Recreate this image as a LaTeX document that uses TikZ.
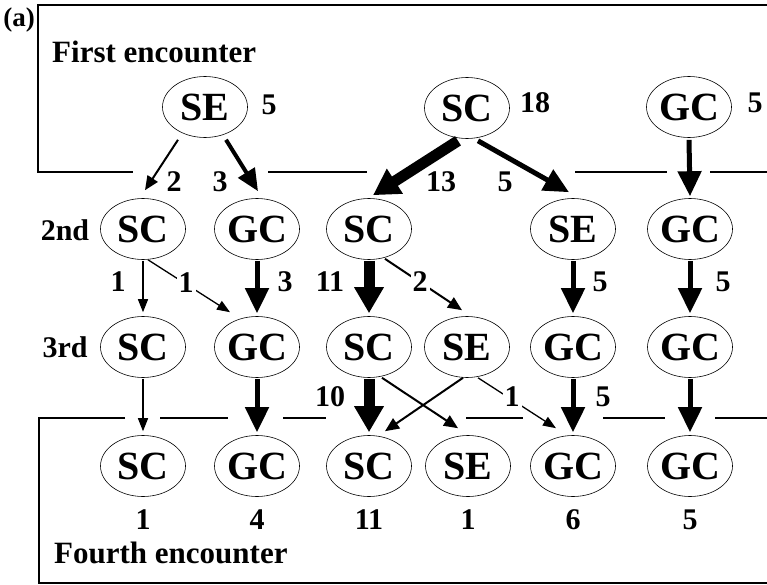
\documentclass[tikz,border=0pt]{standalone}
\usepackage{fontspec}
\setmainfont{Liberation Serif}
\usetikzlibrary{arrows.meta,shapes.geometric,calc}
\begin{document}
\begin{tikzpicture}[x=1pt,y=-1pt,
  st/.style={ellipse, draw, line width=0.6pt, minimum width=85pt, minimum height=61pt, inner sep=0pt, font=\fontsize{40}{40}\selectfont\bfseries},
  lab/.style={font=\fontsize{30}{30}\selectfont\bfseries, inner sep=1pt},
  head/.style={font=\fontsize{31}{31}\selectfont\bfseries, inner sep=0pt},
  cut/.style={lab, fill=white, inner sep=2pt},
  a1/.style={line width=1.3pt, -{Triangle[length=13pt,width=10pt]}},
  a2/.style={line width=2pt, -{Triangle[length=14pt,width=12pt]}},
  a3/.style={line width=4pt, -{Triangle[length=22pt,width=19pt]}},
  a5/.style={line width=5pt, -{Triangle[length=25pt,width=23pt]}},
  a10/.style={line width=11pt, line join=round, -{Triangle[length=26pt,width=28pt]}},
  frame/.style={line width=1.5pt}]
\useasboundingbox (0,0) rectangle (767,585);

% frames
\draw[frame] (767,5) -- (38,5) -- (38,172) -- (133,172);
\draw[frame] (268,172) -- (367,172);
\draw[frame] (575,172) -- (667,172);
\draw[frame] (710,172) -- (767,172);
\draw[frame] (125,418) -- (39,418) -- (39,583) -- (767,583);
\draw[frame] (160,418) -- (228,418);
\draw[frame] (283,418) -- (326,418);
\draw[frame] (466,418) -- (523,418);
\draw[frame] (603,418) -- (665,418);
\draw[frame] (715,418) -- (767,418);

% texts
\node[font=\fontsize{27}{27}\selectfont\bfseries, inner sep=0pt] (a) at (19,20) {(a)};
\node[head, anchor=base west] (first) at (52,63) {First encounter};
\node[head, anchor=base west] (fourth) at (54,563) {Fourth encounter};
\node[lab] (l2nd) at (65,230) {2nd};
\node[lab] (l3rd) at (65,347) {3rd};

% nodes
\node[st] (se1) at (205,107) {SE};
\node[st] (sc1) at (467,108) {SC};
\node[st] (gc1) at (689,107) {GC};

\node[st] (sc2a) at (143,229) {SC};
\node[st] (gc2a) at (257,229) {GC};
\node[st] (sc2b) at (369,229) {SC};
\node[st] (se2)  at (573,229) {SE};
\node[st] (gc2b) at (690,229) {GC};

\node[st] (sc3a) at (143,347) {SC};
\node[st] (gc3a) at (257,347) {GC};
\node[st] (sc3b) at (369,347) {SC};
\node[st] (se3)  at (467,347) {SE};
\node[st] (gc3b) at (573,347) {GC};
\node[st] (gc3c) at (690,347) {GC};

\node[st] (sc4a) at (143,466) {SC};
\node[st] (gc4a) at (257,466) {GC};
\node[st] (sc4b) at (369,466) {SC};
\node[st] (se4)  at (468,466) {SE};
\node[st] (gc4b) at (573,466) {GC};
\node[st] (gc4c) at (690,466) {GC};

% counts
\node[lab] (n1) at (269,105) {5};
\node[lab] (n2) at (535,103) {18};
\node[lab] (n3) at (755,103) {5};
\node[lab] (b1) at (143,520) {1};
\node[lab] (b2) at (257,520) {4};
\node[lab] (b3) at (369,520) {11};
\node[lab] (b4) at (468,520) {1};
\node[lab] (b5) at (573,520) {6};
\node[lab] (b6) at (690,520) {5};

% row 1 -> 2
\draw[a2] ($(se1.south)+(-27,2)$) -- ($(sc2a.north)+(2,-8)$);
\draw[a3] ($(se1.south)+(21,2)$) -- ($(gc2a.north)+(1,-7)$);
\draw[a10] ($(sc1.south)+(-9,2)$) -- ($(sc2b.north)+(4,-3)$);
\draw[a5] ($(sc1.south)+(11,2)$) -- ($(se2.north)+(-4,-6)$);
\draw[a5] ($(gc1.south)+(0,2)$) -- ($(gc2b.north)+(0,-2)$);
\node[lab] (e1) at (174,182) {2};
\node[lab] (e2) at (220,182) {3};
\node[lab] (e3) at (441,182) {13};
\node[lab] (e4) at (505,182) {5};

% row 2 -> 3
\draw[a1] ($(sc2a.south)+(0,1)$) -- ($(sc3a.north)+(0,-4)$);
\draw[a1] ($(sc2a.south)+(5,0)$) -- ($(gc3a.north)+(-27,-4)$);
\draw[a5] ($(gc2a.south)+(0,1)$) -- ($(gc3a.north)+(0,-3)$);
\draw[a10] ($(sc2b.south)+(0,1)$) -- ($(sc3b.north)+(0,-3)$);
\draw[a2] ($(sc2b.south)+(16,-1)$) -- ($(se3.north)+(-5,-6)$);
\draw[a5] ($(se2.south)+(0,1)$) -- ($(gc3b.north)+(0,-3)$);
\draw[a5] ($(gc2b.south)+(0,1)$) -- ($(gc3c.north)+(0,-3)$);
\node[lab] (f1) at (118,282) {1};
\node[cut] (f2) at (186,283) {1};
\node[lab] (f3) at (285,282) {3};
\node[lab] (f4) at (330,282) {11};
\node[cut] (f5) at (420,282) {2};
\node[lab] (f6) at (600,282) {5};
\node[lab] (f7) at (723,282) {5};

% row 3 -> 4
\draw[a1] ($(sc3a.south)+(0,1)$) -- ($(sc4a.north)+(0,-4)$);
\draw[a5] ($(gc3a.south)+(0,1)$) -- ($(gc4a.north)+(0,-3)$);
\draw[a10] ($(sc3b.south)+(0,1)$) -- ($(sc4b.north)+(0,-3)$);
\draw[a2] ($(sc3b.south)+(13,0)$) -- ($(se4.north)+(-10,-7)$);
\draw[a2] ($(se3.south)+(-4,0)$) -- ($(sc4b.north)+(16,-4)$);
\draw[a1] ($(se3.south)+(11,0)$) -- ($(gc4b.north)+(-17,-7)$);
\draw[a5] ($(gc3b.south)+(0,1)$) -- ($(gc4b.north)+(0,-3)$);
\draw[a5] ($(gc3c.south)+(0,1)$) -- ($(gc4c.north)+(0,-3)$);
\node[lab] (g1) at (330,397) {10};
\node[cut] (g2) at (512,397) {1};
\node[lab] (g3) at (603,397) {5};
\end{tikzpicture}
\end{document}
